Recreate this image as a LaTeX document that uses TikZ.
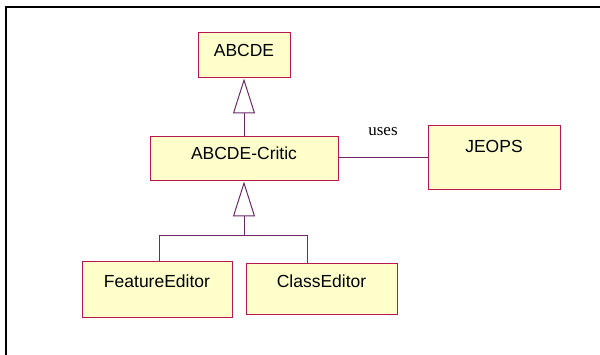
\documentclass[tikz,border=0pt]{standalone}
\usepackage{fontspec}
\setmainfont{Liberation Serif}
\newfontfamily\arialf{Liberation Sans}
\usetikzlibrary{arrows.meta}
\definecolor{boxfill}{HTML}{FFFFCC}
\definecolor{boxline}{HTML}{B8184C}
\definecolor{conn}{HTML}{6A2A6A}
\tikzset{
  x=1pt,y=1pt,
  umlbox/.style={draw=boxline, fill=boxfill, line width=1pt, inner sep=0pt},
  lbl/.style={font=\arialf\fontsize{17.5}{20}\selectfont, inner sep=0pt, text=black},
  conline/.style={draw=conn, line width=1pt},
  gen/.style={conline, -{Triangle[open, length=35pt, width=22pt, line width=1pt]}},
}
\begin{document}
\begin{tikzpicture}
\useasboundingbox (0,0) rectangle (600,355);
% outer frame
\draw[line width=2pt, black] (6,0) -- (6,348) -- (600,348);
% boxes
\node[umlbox, minimum width=92, minimum height=45] (abcde) at (244,299.5) {};
\node[lbl] (abcdeT) at (244,305) {ABCDE};
\node[umlbox, minimum width=188, minimum height=44] (critic) at (244,196) {};
\node[lbl] (criticT) at (244,202) {ABCDE-Critic};
\node[umlbox, minimum width=132, minimum height=64] (jeops) at (494,197) {};
\node[lbl] (jeopsT) at (494,209) {JEOPS};
\node[umlbox, minimum width=150, minimum height=56] (fe) at (157,65) {};
\node[lbl] (feT) at (157,74) {FeatureEditor};
\node[umlbox, minimum width=151, minimum height=51] (ce) at (321.5,65.5) {};
\node[lbl] (ceT) at (321.5,74) {ClassEditor};
% connectors
\draw[gen] (critic.north) -- (abcde.south);
\coordinate (j) at (244,119);
\coordinate (jl) at (159,119);
\coordinate (jr) at (307,119);
\draw[conline] (jl |- fe.north) -- (jl) -- (jr) -- (jr |- ce.north);
\draw[gen] (j) -- (critic.south);
\draw[conline] (critic.east |- jeops.west) -- (jeops.west) node[midway, above=22pt, font=\fontsize{17}{20}\selectfont, inner sep=0pt] (usesT) {uses};
\end{tikzpicture}
\end{document}
